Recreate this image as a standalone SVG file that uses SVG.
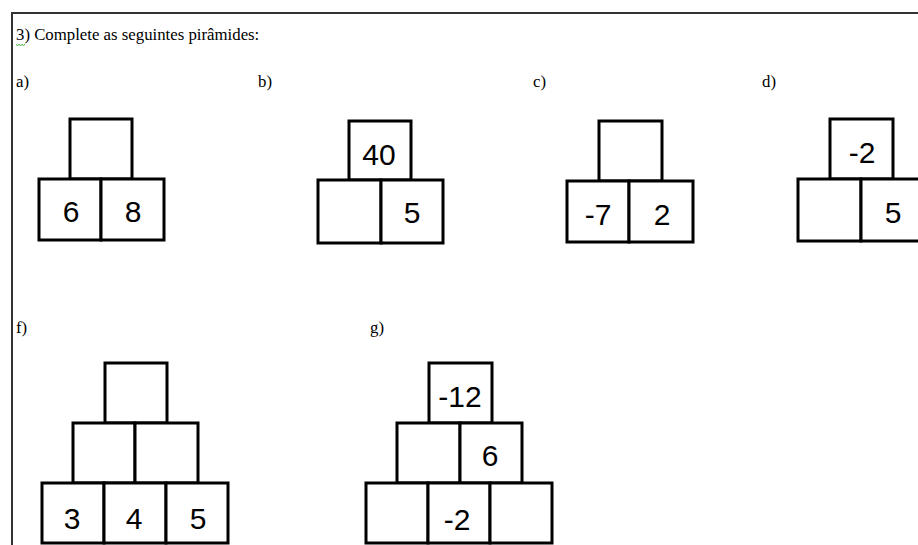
<svg xmlns="http://www.w3.org/2000/svg" width="918" height="545" viewBox="0 0 918 545">
<style>
.lbl{font-family:"Liberation Serif","Times New Roman",serif;font-size:16.8px;fill:#000}
.num{font-family:"Liberation Sans",Arial,sans-serif;font-size:30px;fill:#000;text-anchor:middle}
.box{fill:#fff;stroke:#000;stroke-width:3}
.frame{stroke:#333;stroke-width:2;fill:none}
</style>
<rect x="0" y="0" width="918" height="545" fill="#fff"/>
<g id="frame">
<path class="frame" d="M12 545 V13 H918"/>
</g>
<g id="title">
<text class="lbl" x="16" y="40">3) Complete as seguintes pirâmides:</text>
<path d="M16 44 l1.5 2 l1.5 -2 l1.5 2 l1.5 -2 l1.5 2 l1.5 -2" fill="none" stroke="#3a3" stroke-width="0.8"/>
</g>
<g id="labels">
<text class="lbl" x="16" y="87">a)</text>
<text class="lbl" x="258" y="87">b)</text>
<text class="lbl" x="533" y="87">c)</text>
<text class="lbl" x="762" y="87">d)</text>
<text class="lbl" x="16" y="333">f)</text>
<text class="lbl" x="370" y="333">g)</text>
</g>
<g id="pyramid-a">
<rect class="box" x="70" y="119" width="62" height="60"/>
<rect class="box" x="39" y="179" width="62" height="61"/>
<rect class="box" x="101" y="179" width="63" height="61"/>
<text class="num" x="71" y="222">6</text>
<text class="num" x="133" y="222">8</text>
</g>
<g id="pyramid-b">
<rect class="box" x="349" y="121" width="62" height="59"/>
<rect class="box" x="318" y="180" width="63" height="63"/>
<rect class="box" x="381" y="180" width="62" height="63"/>
<text class="num" x="379" y="165">40</text>
<text class="num" x="412" y="223">5</text>
</g>
<g id="pyramid-c">
<rect class="box" x="599" y="121" width="63" height="60"/>
<rect class="box" x="567" y="181" width="62" height="61"/>
<rect class="box" x="629" y="181" width="64" height="61"/>
<text class="num" x="598" y="225">-7</text>
<text class="num" x="662" y="225">2</text>
</g>
<g id="pyramid-d">
<rect class="box" x="830" y="119" width="63" height="60"/>
<rect class="box" x="798" y="179" width="63" height="62"/>
<rect class="box" x="861" y="179" width="63" height="62"/>
<text class="num" x="862" y="163">-2</text>
<text class="num" x="893" y="223">5</text>
</g>
<g id="pyramid-f">
<rect class="box" x="105" y="363" width="62" height="60"/>
<rect class="box" x="73" y="423" width="62" height="60"/>
<rect class="box" x="135" y="423" width="63" height="60"/>
<rect class="box" x="42" y="483" width="62" height="60"/>
<rect class="box" x="104" y="483" width="62" height="60"/>
<rect class="box" x="166" y="483" width="62" height="60"/>
<text class="num" x="72" y="529">3</text>
<text class="num" x="134" y="529">4</text>
<text class="num" x="198" y="529">5</text>
</g>
<g id="pyramid-g">
<rect class="box" x="429" y="363" width="63" height="60"/>
<rect class="box" x="397" y="423" width="63" height="60"/>
<rect class="box" x="460" y="423" width="62" height="60"/>
<rect class="box" x="366" y="483" width="62" height="60"/>
<rect class="box" x="428" y="483" width="62" height="60"/>
<rect class="box" x="490" y="483" width="62" height="60"/>
<text class="num" x="460" y="407">-12</text>
<text class="num" x="490" y="466">6</text>
<text class="num" x="457" y="530">-2</text>
</g>
</svg>
